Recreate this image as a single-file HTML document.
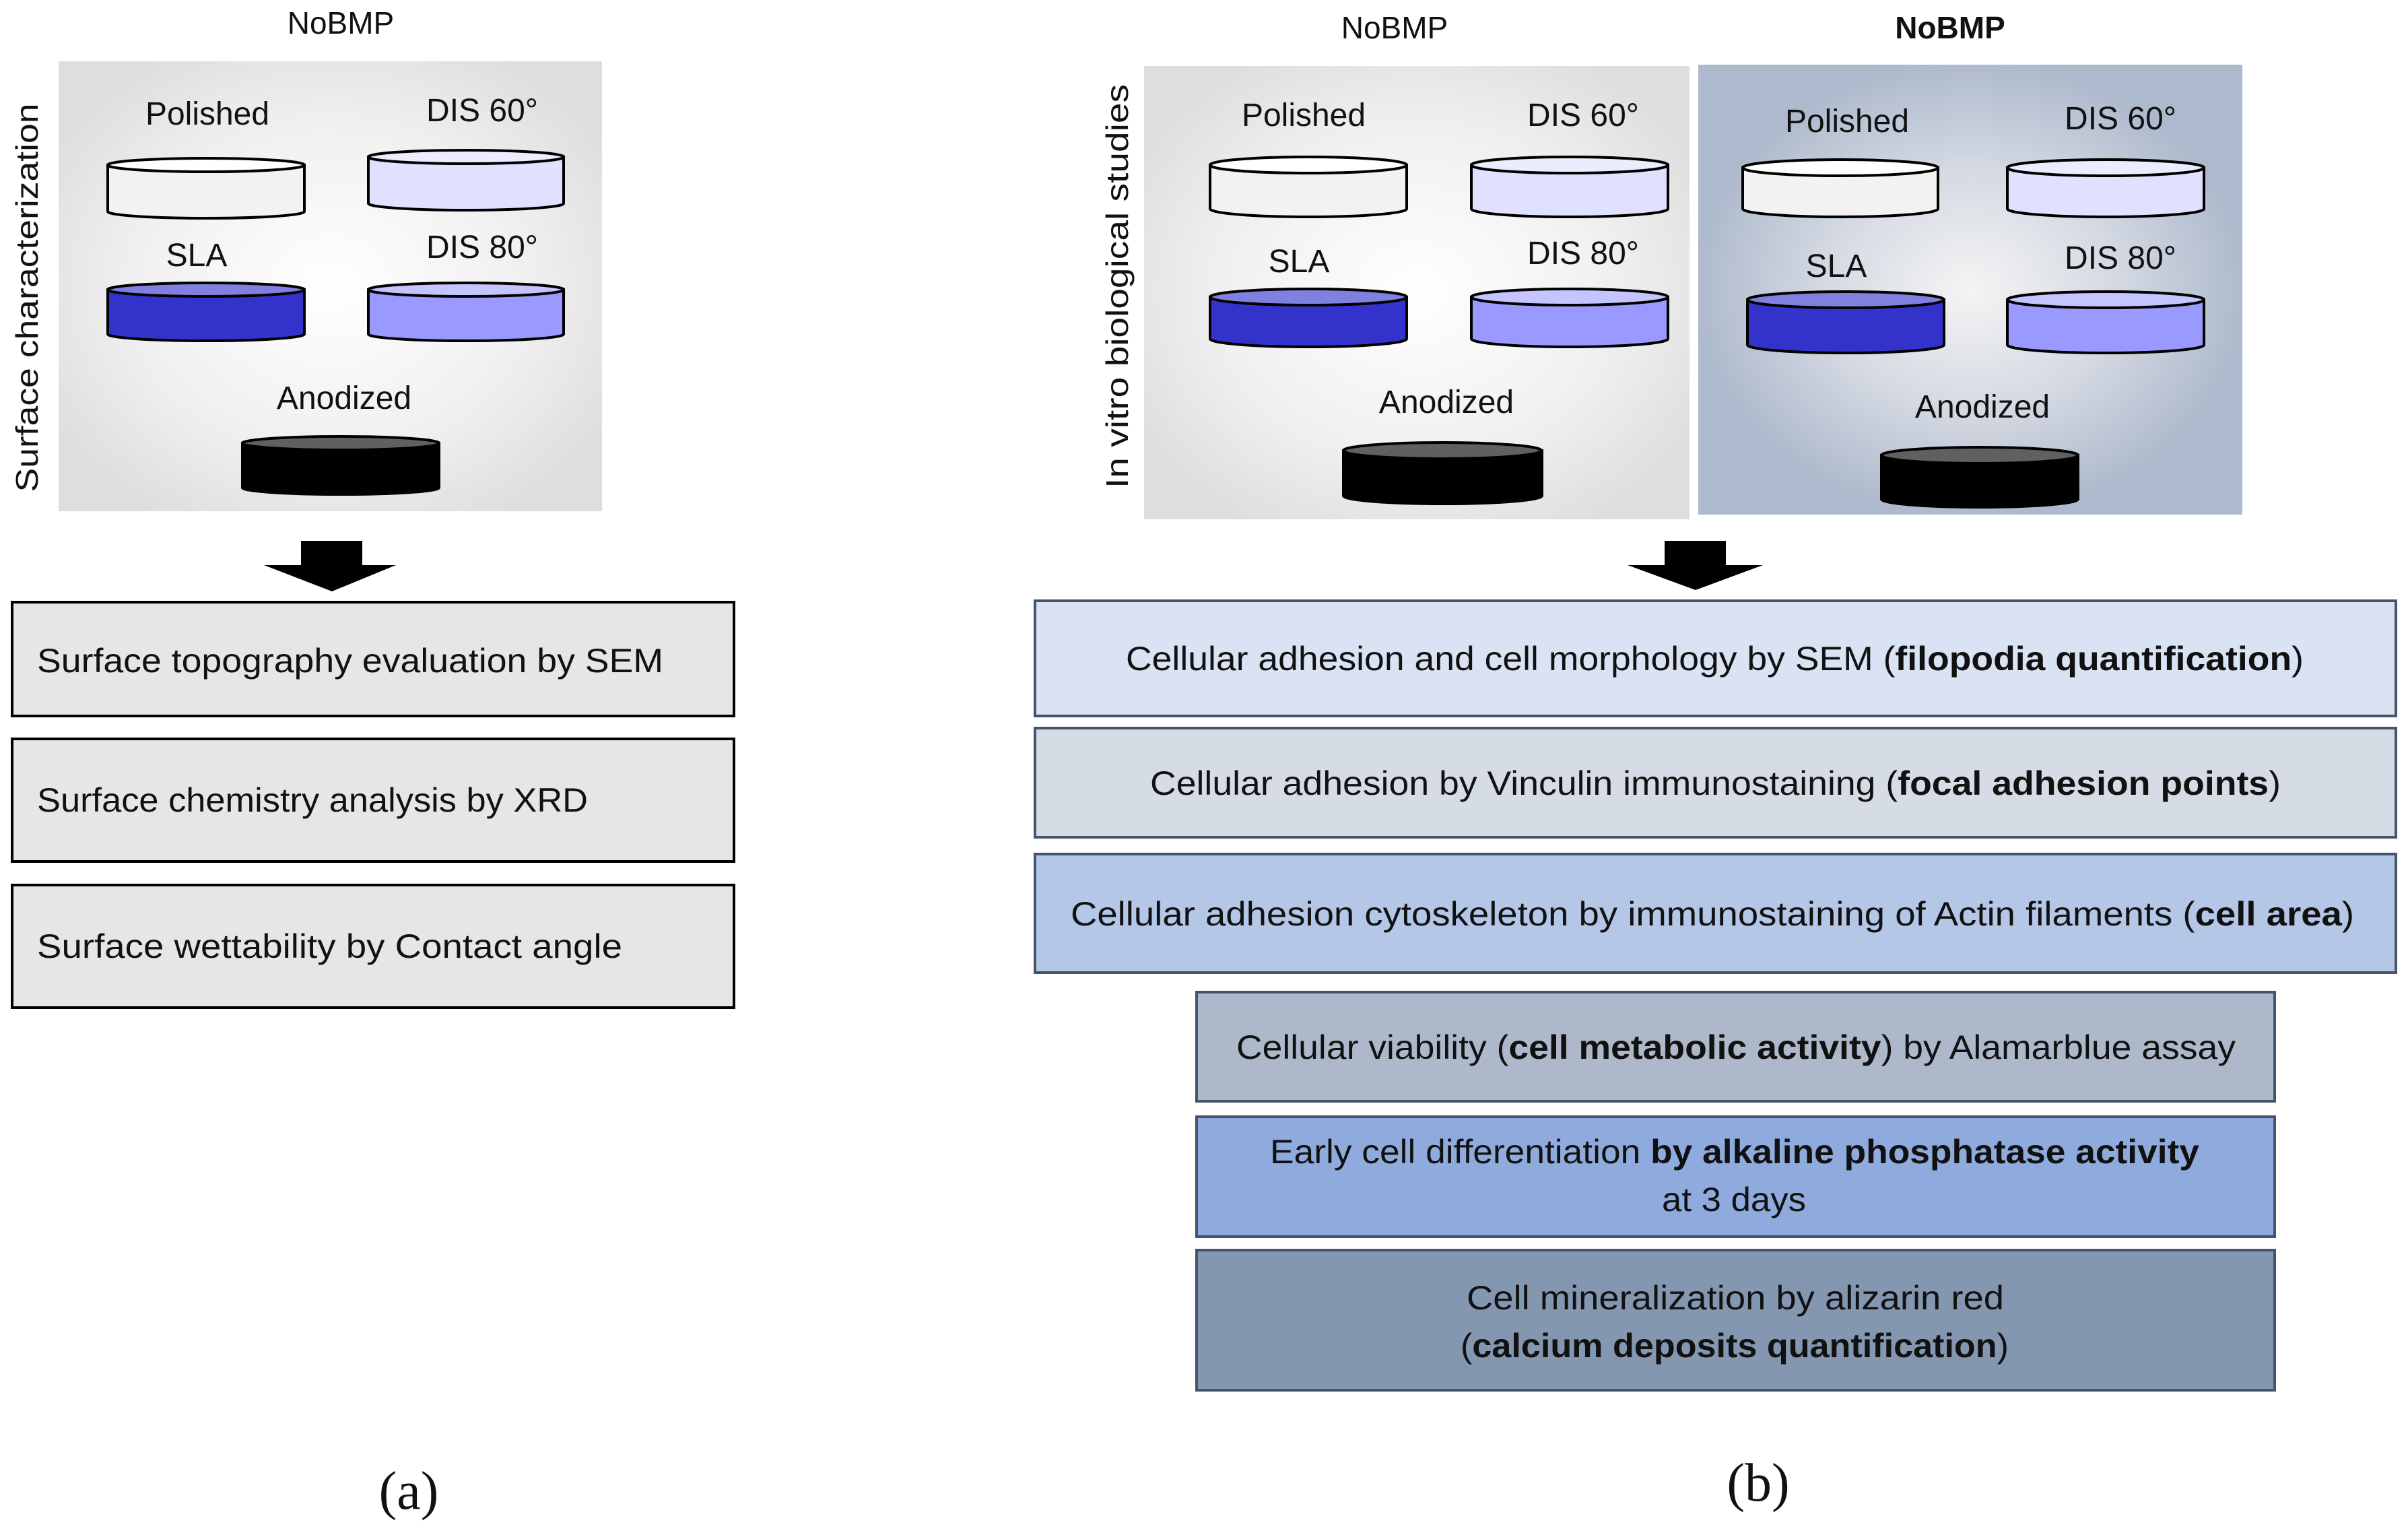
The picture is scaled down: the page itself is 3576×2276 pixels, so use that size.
<!DOCTYPE html>
<html><head><meta charset="utf-8"><style>html,body{margin:0;padding:0;background:#fff}svg{display:block}</style></head>
<body>
<svg xmlns="http://www.w3.org/2000/svg" width="3576" height="2276" viewBox="0 0 3576 2276" font-family="Liberation Sans, sans-serif">
<defs>
<radialGradient id="gL" cx="50%" cy="50%" r="60%"><stop offset="0" stop-color="#ffffff"/><stop offset="0.6" stop-color="#f0f0f0"/><stop offset="1" stop-color="#dedede"/></radialGradient>
<radialGradient id="gB" cx="50%" cy="50%" r="60%"><stop offset="0" stop-color="#f4f4f4"/><stop offset="0.45" stop-color="#d4d9e2"/><stop offset="0.85" stop-color="#adb9cc"/><stop offset="1" stop-color="#adb9cc"/></radialGradient>
</defs>
<rect x="87" y="91" width="807" height="668" fill="url(#gL)"/>
<rect x="1699" y="98" width="810" height="673" fill="url(#gL)"/>
<rect x="2522" y="96" width="808" height="668" fill="url(#gB)"/>

<g font-size="48" fill="#111" text-anchor="middle">
<text x="506" y="50" font-size="46">NoBMP</text>
<text x="2071" y="57" font-size="46">NoBMP</text>
<text x="2896" y="57" font-size="46" font-weight="bold">NoBMP</text>
<text x="308" y="185">Polished</text><text x="716" y="180">DIS 60°</text>
<text x="292" y="395">SLA</text><text x="716" y="383">DIS 80°</text>
<text x="511" y="607">Anodized</text>
<text x="1936" y="187">Polished</text><text x="2351" y="187">DIS 60°</text>
<text x="1929" y="404">SLA</text><text x="2351" y="392">DIS 80°</text>
<text x="2148" y="613">Anodized</text>
<text x="2743" y="196">Polished</text><text x="3149" y="192">DIS 60°</text>
<text x="2727" y="411">SLA</text><text x="3149" y="399">DIS 80°</text>
<text x="2944" y="620">Anodized</text>
</g>
<text transform="translate(56,442) rotate(-90)" font-size="46" text-anchor="middle" fill="#111" textLength="577" lengthAdjust="spacingAndGlyphs">Surface characterization</text>
<text transform="translate(1675,425) rotate(-90)" font-size="46" text-anchor="middle" fill="#111" textLength="600" lengthAdjust="spacingAndGlyphs">In vitro biological studies</text>

<g stroke="#000" stroke-width="4">
<!-- disk helper: body rect + bottom ellipse + top ellipse -->
<g id="d1"><path d="M160,245 L160,314 A146,10 0 0 0 452,314 L452,245 Z" fill="#f2f2f2"/><ellipse cx="306" cy="245" rx="146" ry="10" fill="#ffffff"/></g>
<g><path d="M547,233 L547,302 A145,10 0 0 0 837,302 L837,233 Z" fill="#e0e0ff"/><ellipse cx="692" cy="233" rx="145" ry="10" fill="#ececff"/></g>
<g><path d="M160,430 L160,496 A146,10 0 0 0 452,496 L452,430 Z" fill="#3333cc"/><ellipse cx="306" cy="430" rx="146" ry="10" fill="#8080e0"/></g>
<g><path d="M547,430 L547,496 A145,10 0 0 0 837,496 L837,430 Z" fill="#9999ff"/><ellipse cx="692" cy="430" rx="145" ry="10" fill="#c4c4ff"/></g>
<g><path d="M360,658 L360,724 A146,10 0 0 0 652,724 L652,658 Z" fill="#000"/><ellipse cx="506" cy="658" rx="146" ry="10" fill="#606060"/></g>

<g><path d="M1797,245 L1797,310 A146,12 0 0 0 2089,310 L2089,245 Z" fill="#f2f2f2"/><ellipse cx="1943" cy="245" rx="146" ry="12" fill="#fff"/></g>
<g><path d="M2185,245 L2185,310 A146,12 0 0 0 2477,310 L2477,245 Z" fill="#e0e0ff"/><ellipse cx="2331" cy="245" rx="146" ry="12" fill="#ececff"/></g>
<g><path d="M1797,441 L1797,503 A146,12 0 0 0 2089,503 L2089,441 Z" fill="#3333cc"/><ellipse cx="1943" cy="441" rx="146" ry="12" fill="#8080e0"/></g>
<g><path d="M2185,441 L2185,503 A146,12 0 0 0 2477,503 L2477,441 Z" fill="#9999ff"/><ellipse cx="2331" cy="441" rx="146" ry="12" fill="#c4c4ff"/></g>
<g><path d="M1995,669 L1995,736 A147,12 0 0 0 2290,736 L2290,669 Z" fill="#000"/><ellipse cx="2142" cy="669" rx="147" ry="12" fill="#606060"/></g>

<g><path d="M2588,249 L2588,310 A145,12 0 0 0 2878,310 L2878,249 Z" fill="#f2f2f2"/><ellipse cx="2733" cy="249" rx="145" ry="12" fill="#fff"/></g>
<g><path d="M2981,249 L2981,310 A146,12 0 0 0 3273,310 L3273,249 Z" fill="#e0e0ff"/><ellipse cx="3127" cy="249" rx="146" ry="12" fill="#ececff"/></g>
<g><path d="M2595,445 L2595,512 A146,12 0 0 0 2887,512 L2887,445 Z" fill="#3333cc"/><ellipse cx="2741" cy="445" rx="146" ry="12" fill="#8080e0"/></g>
<g><path d="M2981,445 L2981,512 A146,12 0 0 0 3273,512 L3273,445 Z" fill="#9999ff"/><ellipse cx="3127" cy="445" rx="146" ry="12" fill="#c4c4ff"/></g>
<g><path d="M2794,676 L2794,741 A146,12 0 0 0 3086,741 L3086,676 Z" fill="#000"/><ellipse cx="2940" cy="676" rx="146" ry="12" fill="#606060"/></g>
</g>

<!-- arrows -->
<path d="M447,803 H538 V839 H588 L493,878 L392,839 H447 Z" fill="#000"/>
<path d="M2472,803 H2563 V839 H2618 L2518,876 L2417,839 H2472 Z" fill="#000"/>

<!-- left boxes -->
<g stroke="#000" stroke-width="4" fill="#e6e6e6">
<rect x="18" y="894" width="1072" height="169"/>
<rect x="18" y="1097" width="1072" height="182"/>
<rect x="18" y="1314" width="1072" height="182"/>
</g>
<g font-size="50" fill="#111">
<text x="55" y="998" textLength="930" lengthAdjust="spacingAndGlyphs">Surface topography evaluation by SEM</text>
<text x="55" y="1205" textLength="818" lengthAdjust="spacingAndGlyphs">Surface chemistry analysis by XRD</text>
<text x="55" y="1422" textLength="869" lengthAdjust="spacingAndGlyphs">Surface wettability by Contact angle</text>
</g>

<!-- right boxes -->
<g stroke="#44546a" stroke-width="4">
<rect x="1537" y="892" width="2021" height="171" fill="#dae3f3"/>
<rect x="1537" y="1081" width="2021" height="162" fill="#d6dce5"/>
<rect x="1537" y="1268" width="2021" height="176" fill="#b4c7e7"/>
<rect x="1777" y="1473" width="1601" height="162" fill="#adb9ca"/>
<rect x="1777" y="1658" width="1601" height="178" fill="#8faadc"/>
<rect x="1777" y="1856" width="1601" height="208" fill="#8497b0"/>
</g>
<g font-size="50" fill="#111">
<text x="1672" y="995" textLength="1749" lengthAdjust="spacingAndGlyphs">Cellular adhesion and cell morphology by SEM (<tspan font-weight="bold">filopodia quantification</tspan>)</text>
<text x="1708" y="1180" textLength="1679" lengthAdjust="spacingAndGlyphs">Cellular adhesion by Vinculin immunostaining (<tspan font-weight="bold">focal adhesion points</tspan>)</text>
<text x="1590" y="1374" textLength="1906" lengthAdjust="spacingAndGlyphs">Cellular adhesion cytoskeleton by immunostaining of Actin filaments (<tspan font-weight="bold">cell area</tspan>)</text>
<text x="1836" y="1572" textLength="1484" lengthAdjust="spacingAndGlyphs">Cellular viability (<tspan font-weight="bold">cell metabolic activity</tspan>) by Alamarblue assay</text>
<text x="1886" y="1727" textLength="1380" lengthAdjust="spacingAndGlyphs">Early cell differentiation <tspan font-weight="bold">by alkaline phosphatase activity</tspan></text>
<text x="2468" y="1798" textLength="214" lengthAdjust="spacingAndGlyphs">at 3 days</text>
<text x="2178" y="1944" textLength="798" lengthAdjust="spacingAndGlyphs">Cell mineralization by alizarin red</text>
<text x="2169" y="2015" textLength="814" lengthAdjust="spacingAndGlyphs">(<tspan font-weight="bold">calcium deposits quantification</tspan>)</text>
</g>

<g font-family="Liberation Serif, serif" font-size="80" fill="#111" text-anchor="middle">
<text x="607" y="2240">(a)</text>
<text x="2611" y="2228">(b)</text>
</g>
</svg>
</body></html>
